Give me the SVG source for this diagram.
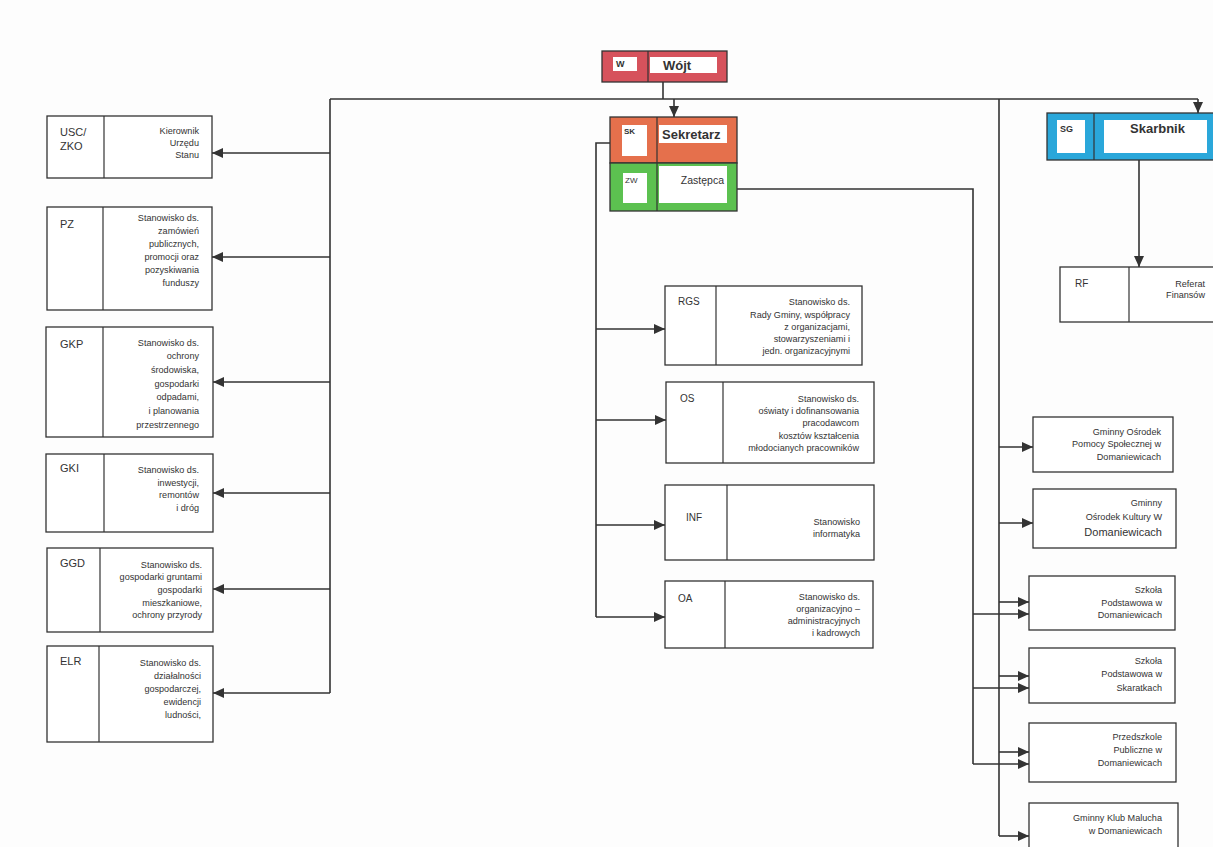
<svg xmlns="http://www.w3.org/2000/svg" width="1213" height="847" viewBox="0 0 1213 847">
<defs>
<marker id="ah" markerUnits="userSpaceOnUse" markerWidth="12" markerHeight="10" refX="11" refY="5" orient="auto">
<path d="M0,0 L11,5 L0,10 Z" fill="#333"/>
</marker>
<style>
.box{fill:#fff;stroke:#333;stroke-width:1.3}
.div{stroke:#333;stroke-width:1.2}
.ln{fill:none;stroke:#333;stroke-width:1.6}
.arr{fill:none;stroke:#333;stroke-width:1.6;marker-end:url(#ah)}
text{font-family:"Liberation Sans",Arial,sans-serif;fill:#333}
.s{font-size:9.1px}
.r{text-anchor:end}
.c{font-size:11px}
.t{font-size:13px;font-weight:bold}
.wb{fill:#fff}
</style>
</defs>
<rect width="1213" height="847" fill="#fdfdfd"/>

<g id="connectors">
<polyline class="ln" points="663,82 663,99"/>
<polyline class="ln" points="330,99 1198,99"/>
<polyline class="arr" points="1198,99 1198,113"/>
<polyline class="arr" points="674,99 674,117"/>
<polyline class="ln" points="330,99 330,693"/>
<polyline class="arr" points="330,153 212,153"/>
<polyline class="arr" points="330,257 212,257"/>
<polyline class="arr" points="330,382 213,382"/>
<polyline class="arr" points="330,493 213,493"/>
<polyline class="arr" points="330,589 213,589"/>
<polyline class="arr" points="330,693 213,693"/>
<polyline class="ln" points="610,143 596,143 596,617"/>
<polyline class="arr" points="596,329 665,329"/>
<polyline class="arr" points="596,420 666,420"/>
<polyline class="arr" points="596,525 665,525"/>
<polyline class="arr" points="596,617 665,617"/>
<polyline class="arr" points="1139,160 1139,267"/>
<polyline class="ln" points="999,99 999,836"/>
<polyline class="arr" points="999,447 1033,447"/>
<polyline class="arr" points="999,523 1033,523"/>
<polyline class="arr" points="999,602 1029,602"/>
<polyline class="arr" points="999,676 1029,676"/>
<polyline class="arr" points="999,752 1029,752"/>
<polyline class="arr" points="999,836 1029,836"/>
<polyline class="ln" points="737,189 973,189 973,764"/>
<polyline class="arr" points="973,614 1029,614"/>
<polyline class="arr" points="973,688 1029,688"/>
<polyline class="arr" points="973,764 1029,764"/>
</g>

<g id="wojt">
<rect x="602" y="51" width="125" height="31" fill="#d6525c" stroke="#333" stroke-width="1.3"/>
<line class="div" x1="648" y1="51" x2="648" y2="82"/>
<rect class="wb" x="613" y="57" width="24" height="14"/>
<rect class="wb" x="650" y="57" width="67" height="16"/>
<text x="616" y="67" style="font-size:9px;font-weight:bold">W</text>
<text x="663" y="70" class="t">Wójt</text>
</g>

<g id="sekretarz">
<rect x="610" y="117" width="127" height="46" fill="#e5704c" stroke="#333" stroke-width="1.3"/>
<line class="div" x1="657" y1="117" x2="657" y2="163"/>
<rect class="wb" x="622" y="125" width="25" height="31"/>
<rect class="wb" x="659" y="125" width="68" height="18"/>
<text x="624" y="134" style="font-size:8px;font-weight:bold">SK</text>
<text x="662" y="139" class="t">Sekretarz</text>
</g>

<g id="zastepca">
<rect x="610" y="163" width="127" height="48" fill="#5cc150" stroke="#333" stroke-width="1.3"/>
<line class="div" x1="657" y1="163" x2="657" y2="211"/>
<rect class="wb" x="623" y="173" width="24" height="30"/>
<rect class="wb" x="659" y="166" width="68" height="37"/>
<text x="625" y="183" style="font-size:8px">ZW</text>
<text x="724" y="184" class="r" style="font-size:10.5px">Zastępca</text>
</g>

<g id="skarbnik">
<rect x="1047" y="113" width="170" height="47" fill="#2aa7da" stroke="#333" stroke-width="1.3"/>
<line class="div" x1="1094" y1="113" x2="1094" y2="160"/>
<rect class="wb" x="1057" y="120" width="28" height="33"/>
<rect class="wb" x="1104" y="120" width="103" height="33"/>
<text x="1060" y="132" style="font-size:9px;font-weight:bold">SG</text>
<text x="1130" y="133" class="t">Skarbnik</text>
</g>

<g id="rf">
<rect class="box" x="1060" y="267" width="160" height="55"/>
<line class="div" x1="1129" y1="267" x2="1129" y2="322"/>
<text x="1075" y="287" class="c" style="font-size:10px">RF</text>
<text x="1205" y="287" class="s r">Referat</text>
<text x="1205" y="298" class="s r">Finansów</text>
</g>

<g id="usc">
<rect class="box" x="47" y="116" width="165" height="62"/>
<line class="div" x1="104" y1="116" x2="104" y2="178"/>
<text x="60" y="136" class="c">USC/</text>
<text x="60" y="150" class="c">ZKO</text>
<text x="199" y="134" class="s r">Kierownik</text>
<text x="199" y="146" class="s r">Urzędu</text>
<text x="199" y="158" class="s r">Stanu</text>
</g>

<g id="pz">
<rect class="box" x="47" y="207" width="165" height="103"/>
<line class="div" x1="103" y1="207" x2="103" y2="310"/>
<text x="60" y="228" class="c">PZ</text>
<text x="199" y="221" class="s r">Stanowisko ds.</text>
<text x="199" y="234" class="s r">zamówień</text>
<text x="199" y="247" class="s r">publicznych,</text>
<text x="199" y="260" class="s r">promocji oraz</text>
<text x="199" y="273" class="s r">pozyskiwania</text>
<text x="199" y="286" class="s r">funduszy</text>
</g>

<g id="gkp">
<rect class="box" x="46" y="327" width="167" height="110"/>
<line class="div" x1="103" y1="327" x2="103" y2="437"/>
<text x="60" y="348" class="c">GKP</text>
<text x="199" y="346" class="s r">Stanowisko ds.</text>
<text x="199" y="359" class="s r">ochrony</text>
<text x="199" y="373" class="s r">środowiska,</text>
<text x="199" y="387" class="s r">gospodarki</text>
<text x="199" y="400" class="s r">odpadami,</text>
<text x="199" y="414" class="s r">i planowania</text>
<text x="199" y="428" class="s r">przestrzennego</text>
</g>

<g id="gki">
<rect class="box" x="46" y="454" width="167" height="78"/>
<line class="div" x1="104" y1="454" x2="104" y2="532"/>
<text x="60" y="472" class="c">GKI</text>
<text x="199" y="473" class="s r">Stanowisko ds.</text>
<text x="199" y="486" class="s r">inwestycji,</text>
<text x="199" y="498" class="s r">remontów</text>
<text x="199" y="511" class="s r">i dróg</text>
</g>

<g id="ggd">
<rect class="box" x="47" y="548" width="166" height="84"/>
<line class="div" x1="100" y1="548" x2="100" y2="632"/>
<text x="60" y="567" class="c">GGD</text>
<text x="202" y="568" class="s r">Stanowisko ds.</text>
<text x="202" y="580" class="s r">gospodarki gruntami</text>
<text x="202" y="593" class="s r">gospodarki</text>
<text x="202" y="606" class="s r">mieszkaniowe,</text>
<text x="202" y="618" class="s r">ochrony przyrody</text>
</g>

<g id="elr">
<rect class="box" x="47" y="646" width="166" height="96"/>
<line class="div" x1="99" y1="646" x2="99" y2="742"/>
<text x="60" y="665" class="c">ELR</text>
<text x="201" y="666" class="s r">Stanowisko ds.</text>
<text x="201" y="679" class="s r">działalności</text>
<text x="201" y="692" class="s r">gospodarczej,</text>
<text x="201" y="705" class="s r">ewidencji</text>
<text x="201" y="718" class="s r">ludności,</text>
</g>

<g id="rgs">
<rect class="box" x="665" y="286" width="197" height="79"/>
<line class="div" x1="716" y1="286" x2="716" y2="365"/>
<text x="678" y="305" class="c" style="font-size:10px">RGS</text>
<text x="850" y="305" class="s r">Stanowisko ds.</text>
<text x="850" y="318" class="s r">Rady Gminy, współpracy</text>
<text x="850" y="330" class="s r">z organizacjami,</text>
<text x="850" y="342" class="s r">stowarzyszeniami i</text>
<text x="850" y="354" class="s r">jedn. organizacyjnymi</text>
</g>

<g id="os">
<rect class="box" x="666" y="382" width="208" height="81"/>
<line class="div" x1="723" y1="382" x2="723" y2="463"/>
<text x="680" y="402" class="c" style="font-size:10px">OS</text>
<text x="859" y="402" class="s r">Stanowisko ds.</text>
<text x="859" y="414" class="s r">oświaty i dofinansowania</text>
<text x="859" y="426" class="s r">pracodawcom</text>
<text x="859" y="439" class="s r">kosztów kształcenia</text>
<text x="859" y="451" class="s r">młodocianych pracowników</text>
</g>

<g id="inf">
<rect class="box" x="665" y="485" width="209" height="75"/>
<line class="div" x1="727" y1="485" x2="727" y2="560"/>
<text x="686" y="521" class="c" style="font-size:10px">INF</text>
<text x="860" y="525" class="s r">Stanowisko</text>
<text x="860" y="537" class="s r">informatyka</text>
</g>

<g id="oa">
<rect class="box" x="665" y="581" width="208" height="67"/>
<line class="div" x1="725" y1="581" x2="725" y2="648"/>
<text x="678" y="602" class="c" style="font-size:10px">OA</text>
<text x="860" y="600" class="s r">Stanowisko ds.</text>
<text x="860" y="612" class="s r">organizacyjno  –</text>
<text x="860" y="624" class="s r">administracyjnych</text>
<text x="860" y="636" class="s r">i kadrowych</text>
</g>

<g id="gops">
<rect class="box" x="1033" y="417" width="140" height="55"/>
<text x="1161" y="435" class="s r">Gminny Ośrodek</text>
<text x="1161" y="447" class="s r">Pomocy Społecznej w</text>
<text x="1161" y="460" class="s r">Domaniewicach</text>
</g>

<g id="gok">
<rect class="box" x="1033" y="489" width="143" height="59"/>
<text x="1162" y="506" class="s r">Gminny</text>
<text x="1162" y="520" class="s r">Ośrodek Kultury  W</text>
<text x="1162" y="536" class="r" style="font-size:11px">Domaniewicach</text>
</g>

<g id="sp-domaniewice">
<rect class="box" x="1029" y="576" width="146" height="54"/>
<text x="1162" y="593" class="s r">Szkoła</text>
<text x="1162" y="606" class="s r">Podstawowa w</text>
<text x="1162" y="618" class="s r">Domaniewicach</text>
</g>

<g id="sp-skaratki">
<rect class="box" x="1029" y="648" width="146" height="55"/>
<text x="1162" y="664" class="s r">Szkoła</text>
<text x="1162" y="677" class="s r">Podstawowa w</text>
<text x="1162" y="691" class="s r">Skaratkach</text>
</g>

<g id="przedszkole">
<rect class="box" x="1029" y="723" width="147" height="59"/>
<text x="1162" y="740" class="s r">Przedszkole</text>
<text x="1162" y="753" class="s r">Publiczne w</text>
<text x="1162" y="766" class="s r">Domaniewicach</text>
</g>

<g id="klub">
<rect class="box" x="1029" y="803" width="149" height="60"/>
<text x="1162" y="821" class="s r">Gminny Klub Malucha</text>
<text x="1162" y="834" class="s r">w Domaniewicach</text>
</g>
</svg>
